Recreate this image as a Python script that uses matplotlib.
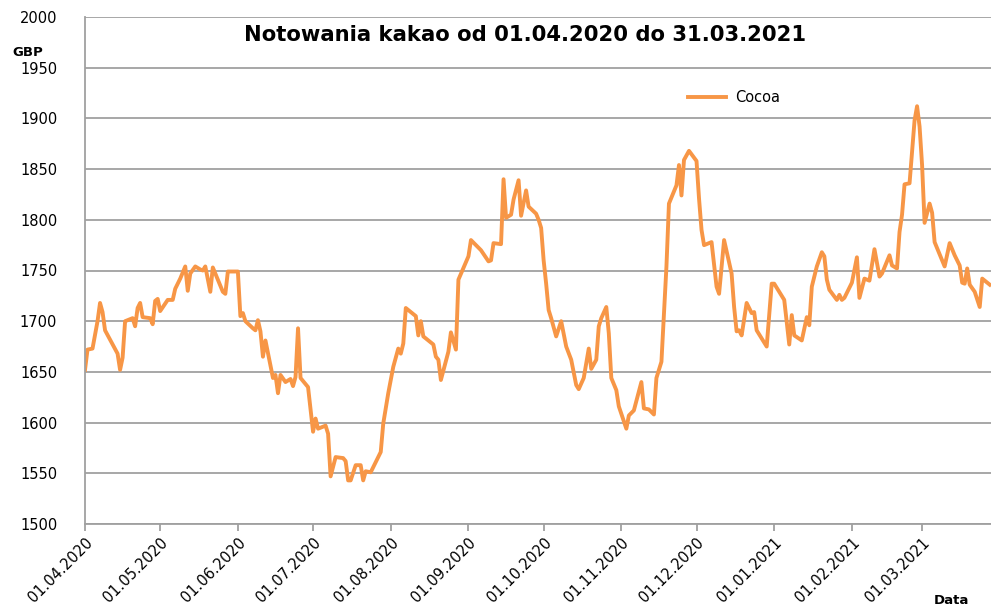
import numpy as np
import pandas as pd
import matplotlib
matplotlib.use("Agg")
import matplotlib.pyplot as plt
import matplotlib.dates as mdates

# dni od 01.04.2020 i notowania (GBP)
dni = [0, 1, 3, 5, 6, 7, 8, 13, 14, 15, 16, 19, 20, 21, 22, 23, 26, 27, 28, 29,
       30, 33, 35, 36, 38, 40, 41, 42, 44, 46, 47, 48, 50, 51, 53, 55, 56, 57, 61, 62,
       63, 64, 67, 68, 69, 70, 71, 72, 75, 76, 77, 78, 80, 82, 83, 84, 85, 86, 89, 91,
       92, 93, 96, 97, 98, 100, 103, 104, 105, 106, 108, 110, 111, 112, 114, 118, 119, 121, 123, 125,
       126, 127, 128, 132, 133, 134, 135, 139, 140, 141, 142, 145, 146, 148, 149, 153, 154, 158, 161, 162,
       163, 166, 167, 168, 170, 171, 173, 174, 176, 177, 180, 181, 182, 183, 184, 185, 186, 188, 190, 192,
       194, 196, 197, 199, 201, 202, 204, 205, 206, 208, 209, 210, 212, 213, 216, 217, 219, 222, 223, 225,
       227, 228, 230, 231, 232, 233, 236, 237, 238, 239, 241, 244, 245, 246, 247, 250, 252, 253, 255, 258,
       259, 260, 261, 262, 264, 266, 267, 268, 272, 274, 275, 279, 281, 282, 283, 286, 288, 289, 290, 292,
       294, 295, 296, 297, 300, 301, 302, 303, 306, 308, 309, 311, 313, 315, 317, 318, 321, 322, 324, 325,
       326, 327, 329, 331, 332, 333, 334, 335, 337, 338, 339, 341, 343, 345, 347, 349, 350, 351, 352, 353,
       355, 357, 358, 361]
cocoa = [1652, 1672, 1673, 1700, 1718, 1709, 1691, 1668, 1652, 1664, 1700, 1703, 1695, 1713, 1718, 1704, 1703, 1697, 1720, 1722,
         1710, 1721, 1721, 1732, 1742, 1754, 1730, 1747, 1754, 1751, 1750, 1754, 1729, 1753, 1741, 1729, 1727, 1749, 1749, 1705,
         1708, 1700, 1693, 1691, 1701, 1690, 1665, 1681, 1644, 1647, 1629, 1647, 1640, 1643, 1636, 1645, 1693, 1644, 1635, 1591,
         1604, 1594, 1597, 1589, 1547, 1566, 1565, 1562, 1543, 1543, 1558, 1558, 1543, 1552, 1551, 1571, 1599, 1629, 1655, 1673,
         1668, 1678, 1713, 1705, 1686, 1700, 1685, 1677, 1665, 1662, 1642, 1670, 1689, 1672, 1741, 1764, 1780, 1770, 1759, 1760,
         1777, 1776, 1840, 1802, 1805, 1820, 1839, 1804, 1829, 1813, 1806, 1800, 1792, 1760, 1737, 1711, 1703, 1685, 1700, 1675,
         1662, 1637, 1633, 1644, 1673, 1653, 1662, 1695, 1703, 1714, 1688, 1644, 1632, 1616, 1594, 1607, 1612, 1640, 1614, 1613,
         1608, 1644, 1660, 1708, 1754, 1816, 1834, 1854, 1824, 1859, 1868, 1858, 1821, 1790, 1775, 1778, 1734, 1727, 1780, 1747,
         1714, 1690, 1691, 1686, 1718, 1708, 1709, 1691, 1675, 1737, 1737, 1721, 1677, 1706, 1686, 1681, 1704, 1696, 1734, 1754,
         1768, 1764, 1741, 1731, 1721, 1726, 1721, 1723, 1738, 1763, 1723, 1742, 1740, 1771, 1744, 1747, 1765, 1755, 1752, 1788,
         1805, 1835, 1836, 1898, 1912, 1892, 1854, 1797, 1816, 1807, 1778, 1766, 1754, 1777, 1765, 1755, 1738, 1737, 1752, 1736,
         1729, 1714, 1742, 1736]

start = pd.Timestamp("2020-04-01")
daty = start + pd.to_timedelta(dni, unit="D")
miesiace = pd.date_range("2020-04-01", "2021-03-01", freq="MS")

orange = "#F79646"
grid_col = "#A0A0A0"

fig = plt.figure(figsize=(9.91, 6.08), dpi=100)
ax = fig.add_axes([85 / 991, 84 / 608, 906 / 991, 507 / 608])

ax.plot(daty, cocoa, color=orange, lw=2.8, label="Cocoa", solid_joinstyle="round")

ax.set_ylim(1500, 2000)
ax.set_yticks(np.arange(1500, 2001, 50))
ax.set_xlim(start, start + pd.Timedelta(days=361.5))
ax.set_xticks(miesiace)
ax.xaxis.set_major_formatter(mdates.DateFormatter("%d.%m.%Y"))

ax.grid(axis="y", color=grid_col, lw=1.3)
ax.set_axisbelow(True)
for s in ["top", "right"]:
    ax.spines[s].set_visible(False)
for s in ["left", "bottom"]:
    ax.spines[s].set_color(grid_col)
    ax.spines[s].set_linewidth(1.3)

ax.tick_params(axis="y", length=0, pad=20, labelsize=10.5)
ax.tick_params(axis="x", length=5, color=grid_col, width=1.3, pad=3, labelsize=10.5)
for lab in ax.get_yticklabels():
    lab.set_horizontalalignment("right")
plt.setp(ax.get_xticklabels(), rotation=45, ha="right", va="top", rotation_mode="anchor")

fig.text(525 / 991, 1 - 35 / 608, "Notowania kakao od 01.04.2020 do 31.03.2021",
         ha="center", va="center", fontsize=15.2, fontweight="bold")
fig.text(12 / 991, 1 - 52 / 608, "GBP", ha="left", va="center", fontsize=9.5, fontweight="bold")
fig.text(951 / 991, 1 - 600 / 608, "Data", ha="center", va="center", fontsize=9.5, fontweight="bold")

ax.legend(loc="upper left", bbox_to_anchor=(590 / 906, 1 - 60 / 507), frameon=False,
          fontsize=10.5, handlelength=2.6, handletextpad=0.6)

fig.savefig("out.png", dpi=100)
